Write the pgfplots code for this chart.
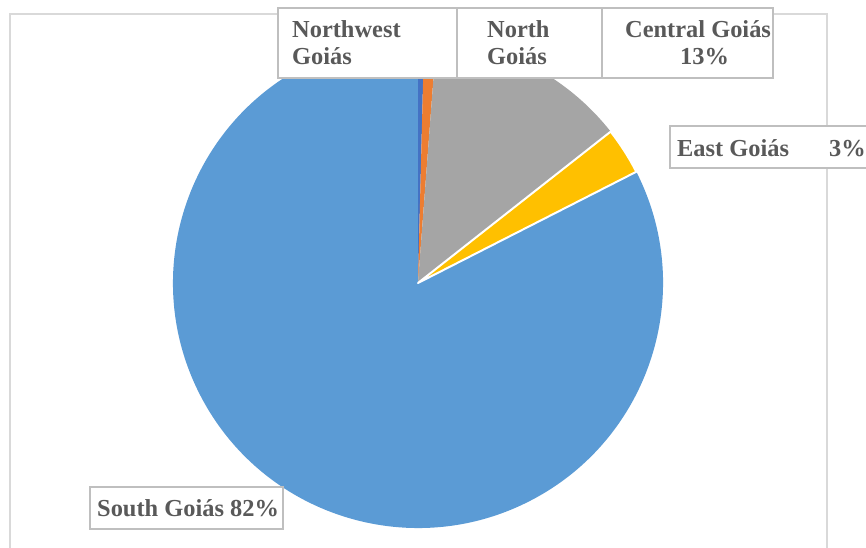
\documentclass[border=0pt]{standalone}
\usepackage{pgfplots}
\usepackage{pgfplotstable}
\pgfplotsset{compat=1.18}
\usepackage{fontspec}
\setmainfont{Liberation Serif}
\definecolor{c0}{HTML}{4472C4}
\definecolor{c1}{HTML}{ED7D31}
\definecolor{c2}{HTML}{A5A5A5}
\definecolor{c3}{HTML}{FFC000}
\definecolor{c4}{HTML}{5B9BD5}
\definecolor{txt}{HTML}{595959}
\definecolor{framec}{HTML}{D9D9D9}
\definecolor{boxc}{HTML}{BFBFBF}

\pgfplotstableread{
region value
Northwest 0.4
North 0.8
Central 13.2
East 3.1
South 82.5
}\piedata

\tikzset{lbl/.style={text=txt, inner sep=0pt, anchor=base west,
    font=\fontsize{24.5}{28}\selectfont\bfseries}}

\begin{document}
\begin{tikzpicture}
\gdef\cum{0}
\pgfplotsforeachungrouped \i in {0,...,4}{%
  \pgfplotstablegetelem{\i}{value}\of\piedata
  \pgfmathsetmacro\sa{90-3.6*\cum}
  \pgfmathsetmacro\newcum{\cum+\pgfplotsretval}
  \xdef\cum{\newcum}
  \pgfmathsetmacro\ea{90-3.6*\cum}
  \expandafter\xdef\csname sa\i\endcsname{\sa}
  \expandafter\xdef\csname ea\i\endcsname{\ea}
}
\begin{axis}[x=1bp,y=1bp,xmin=0,xmax=866,ymin=0,ymax=548,
  hide axis, clip=true]
\fill[white] (axis cs:0,0) rectangle (axis cs:866,548);
\pgfplotsinvokeforeach{4,0,1,2}{
  \fill[c#1] (axis cs:418,265) -- ++({\csname sa#1\endcsname}:245bp)
    arc[start angle={\csname sa#1\endcsname}, end angle={\csname ea#1\endcsname}, radius=245bp] -- cycle;
}
\pgfplotsinvokeforeach{3}{
  \filldraw[fill=c#1, draw=white, line width=2bp, line join=round] (axis cs:418,265) -- ++({\csname sa#1\endcsname}:245bp)
    arc[start angle={\csname sa#1\endcsname}, end angle={\csname ea#1\endcsname}, radius=245bp] -- cycle;
}
\draw[framec, line width=1.5bp] (axis cs:10,-10) -- (axis cs:10,534) -- (axis cs:827,534) -- (axis cs:827,-10);
\filldraw[fill=white, draw=boxc, line width=1.2bp] (axis cs:278,540) rectangle (axis cs:457,470);
\filldraw[fill=white, draw=boxc, line width=1.2bp] (axis cs:457,540) rectangle (axis cs:602,470);
\filldraw[fill=white, draw=boxc, line width=1.2bp] (axis cs:602,540) rectangle (axis cs:773,470);
\filldraw[fill=white, draw=boxc, line width=1.2bp] (axis cs:670,422) rectangle (axis cs:900,380);
\filldraw[fill=white, draw=boxc, line width=1.2bp] (axis cs:90,61) rectangle (axis cs:283,19);
\node[lbl] at (axis cs:292,510) {Northwest};
\node[lbl] at (axis cs:292,483) {Goiás};
\node[lbl] at (axis cs:487,510) {North};
\node[lbl] at (axis cs:487,483) {Goiás};
\node[lbl] at (axis cs:625,510) {Central Goiás};
\node[lbl] at (axis cs:680,483) {13\%};
\node[lbl] at (axis cs:677,391) {East Goiás};
\node[lbl] at (axis cs:829,391) {3\%};
\node[lbl] at (axis cs:97,31) {South Goiás 82\%};
\end{axis}
\end{tikzpicture}
\end{document}
